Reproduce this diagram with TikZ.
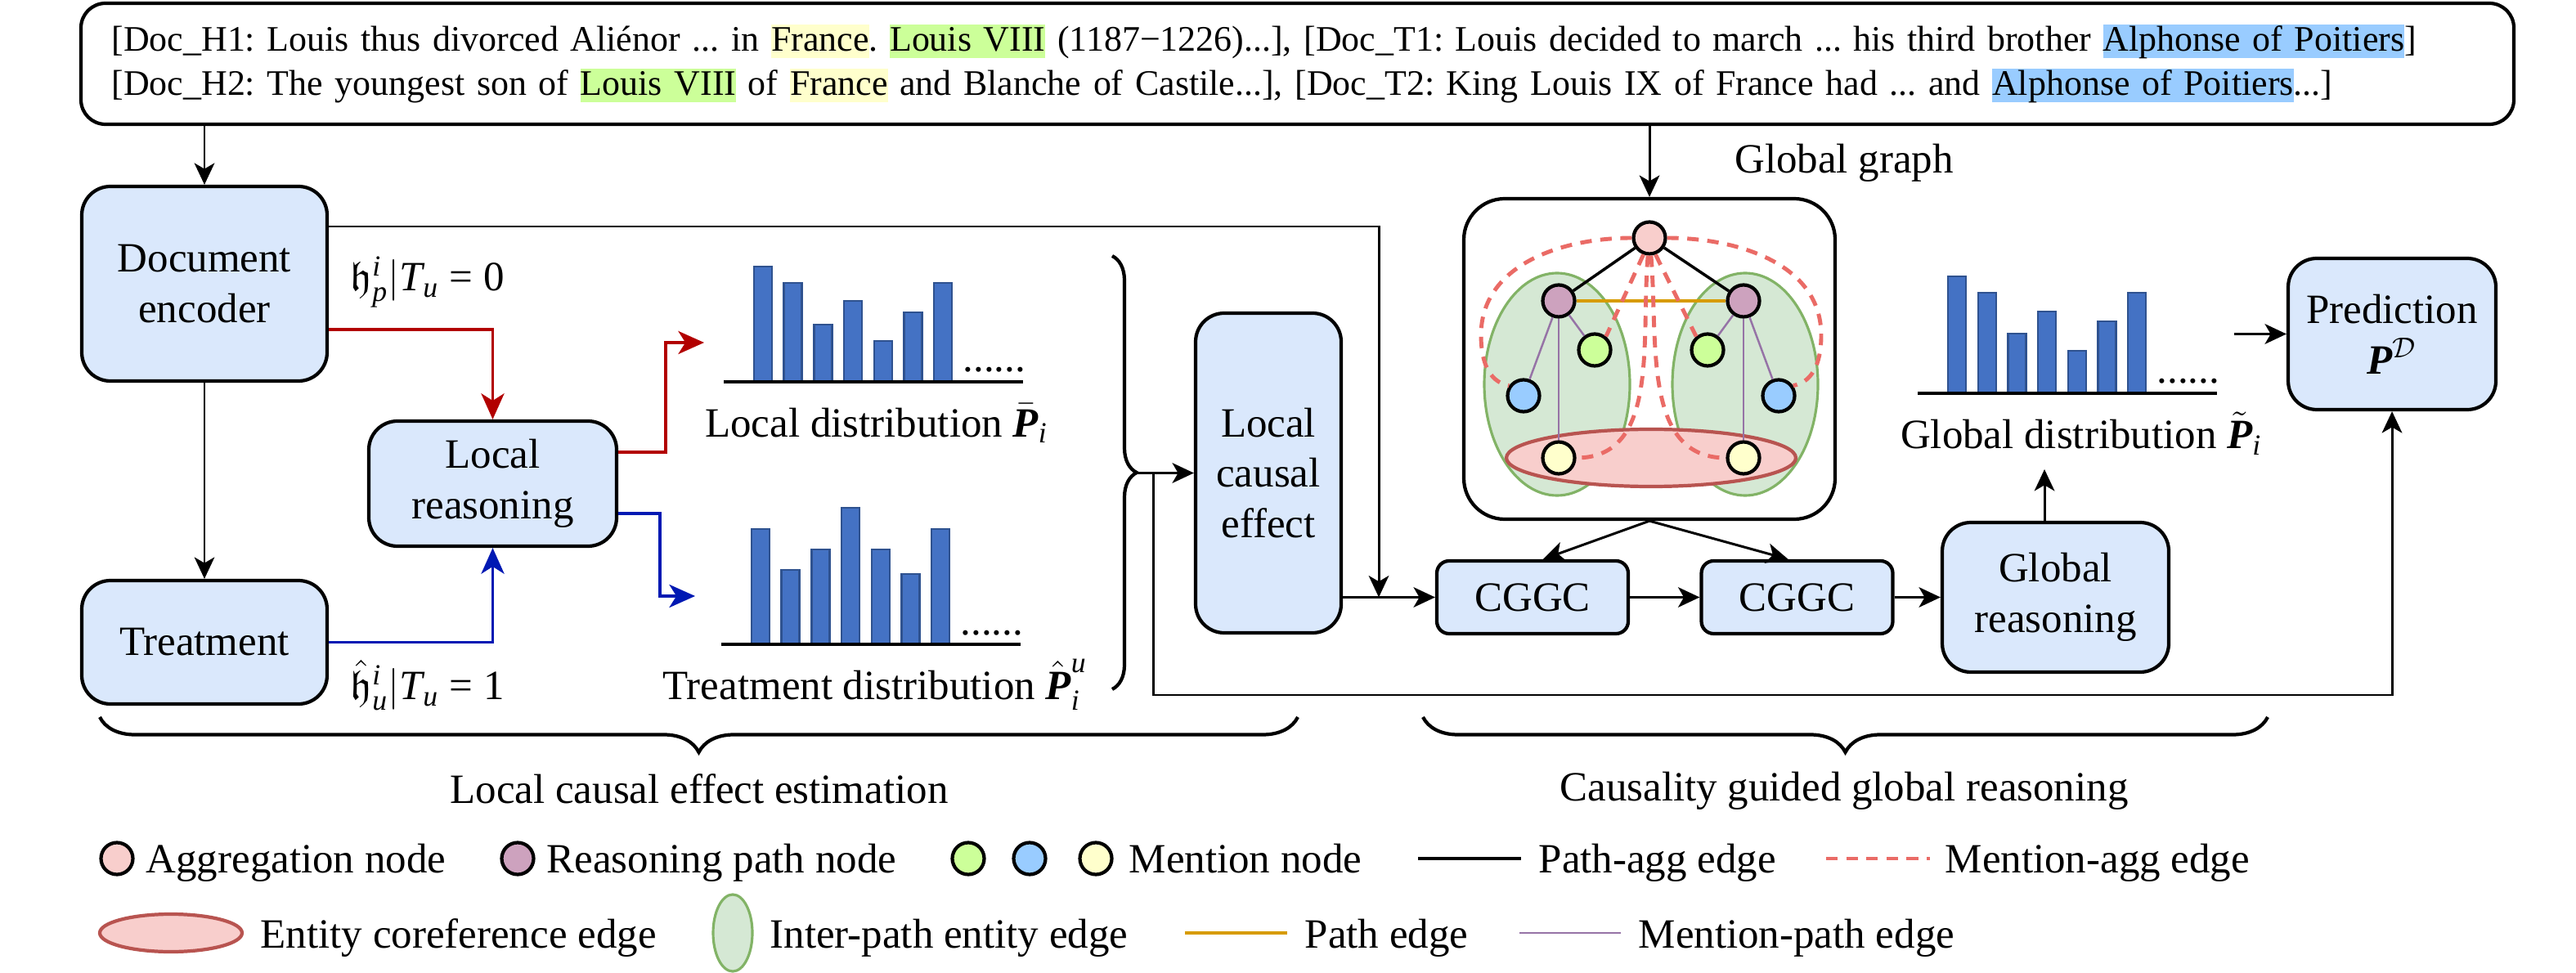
\documentclass[tikz,border=0pt]{standalone}
\usepackage{amsmath,amssymb}
\usepackage[no-math]{fontspec}
\setmainfont{Liberation Serif}
\usetikzlibrary{arrows.meta,decorations.pathreplacing}

\definecolor{boxblue}{HTML}{DAE8FC}
\definecolor{barblue}{HTML}{4472C4}
\definecolor{bardark}{HTML}{2F528F}
\definecolor{redflow}{HTML}{B20000}
\definecolor{blueflow}{HTML}{0019B3}
\definecolor{aggpink}{HTML}{F8CECC}
\definecolor{pathpurple}{HTML}{CDA2BE}
\definecolor{mentgreen}{HTML}{CCFF99}
\definecolor{mentblue}{HTML}{99CCFF}
\definecolor{mentyellow}{HTML}{FFFFCC}
\definecolor{corefred}{HTML}{B85450}
\definecolor{entgreen}{HTML}{D5E8D4}
\definecolor{entgreendark}{HTML}{82B366}
\definecolor{dashred}{HTML}{EA6B66}
\definecolor{pathgold}{HTML}{D79B00}
\definecolor{mpurple}{HTML}{9673A6}

\newcommand{\hlent}[2]{{\setlength{\fboxsep}{0pt}\colorbox{#1}{\rule[-2.6pt]{0pt}{11.6pt}#2}}}
\newcommand{\tv}[1]{\text{\itshape #1}}
\newcommand{\bv}[1]{\text{\bfseries\itshape #1}}
\newcommand{\distbars}[3]{%
  \foreach \h [count=\k] in {#3}
    \draw[bar] ({#1+0.37+(\k-1)*0.367},#2) rectangle ++(0.22,\h);
  \draw[line width=1.2pt] (#1,#2) -- ++(3.66,0);
  \node[anchor=base west, inner sep=0pt] at ({#1+2.92},{#2+0.12}) {......};
}

\tikzset{
  box/.style={draw, line width=1.2pt, fill=boxblue, rounded corners=3.5mm, align=center, inner sep=0pt},
  arr/.style={-{Stealth[length=7.5pt,width=7pt,inset=2pt]}, line width=0.85pt},
  bigarr/.style={-{Stealth[length=9pt,width=8pt,inset=2.5pt]}, line width=1pt},
  bar/.style={fill=barblue, draw=bardark, line width=0.7pt},
  gnode/.style={circle, draw, line width=1.2pt, minimum size=3.9mm, inner sep=0pt},
  brc/.style={decorate, line width=1.2pt},
  aggedge/.style={line width=1pt},
  madash/.style={dashred, line width=1.4pt, dash pattern=on 4pt off 3pt},
  mpedge/.style={mpurple, line width=0.7pt},
  pedge/.style={pathgold, line width=1pt},
  lgtext/.style={anchor=base west, inner sep=0pt}
}

\begin{document}
\frenchspacing
\fontsize{14.5}{17.6}\selectfont
\begin{tikzpicture}
    \useasboundingbox (0,0) rectangle (31.5,-11.9);

    % input documents
    \node[box, fill=white, rounded corners=3mm, minimum width=29.75cm, minimum height=1.48cm,
          text width=29cm, align=left, font=\fontsize{12.5}{15.4}\selectfont] (docs) at (15.865,-0.78)
      {[Doc\_H1: Louis thus divorced Aliénor ... in \hlent{mentyellow}{France}. \hlent{mentgreen}{Louis VIII} (1187−1226)...], [Doc\_T1: Louis decided to march ... his third brother \hlent{mentblue}{Alphonse of Poitiers}]\\\relax
       [Doc\_H2: The youngest son of \hlent{mentgreen}{Louis VIII} of \hlent{mentyellow}{France} and Blanche of Castile...], [Doc\_T2: King Louis IX of France had ... and \hlent{mentblue}{Alphonse of Poitiers}...]};

    % local part
    \node[box, minimum width=3cm, minimum height=2.38cm] (enc) at (2.5,-3.47) {Document\\encoder};
    \node[box, minimum width=3cm, minimum height=1.51cm] (treat) at (2.5,-7.855) {Treatment};
    \node[box, minimum width=3.03cm, minimum height=1.53cm] (lr) at (6.025,-5.915) {Local\\reasoning};
    \node[anchor=west, inner sep=0pt] (hp) at (4.28,-3.45) {$\mathfrak{h}^{\tv{i}}_{\tv{p}}|\tv{T}_{\tv{u}}$ = 0};
    \node[anchor=west, inner sep=0pt] (hu) at (4.28,-8.38) {$\hat{\mathfrak{h}}^{\tv{i}}_{\tv{u}}|\tv{T}_{\tv{u}}$ = 1};

    \distbars{8.85}{-4.67}{1.41,1.21,0.70,0.99,0.50,0.85,1.21}
    \distbars{8.82}{-7.88}{1.41,0.91,1.16,1.67,1.16,0.86,1.41}
    \node (locl) at (10.72,-5.18) {Local distribution $\bar{\bv{P}}_{\tv{i}}$};
    \node (trtl) at (10.70,-8.37) {Treatment distribution $\hat{\bv{P}}_{\tv{i}}^{\tv{u}}$};

    \node[box, minimum width=1.78cm, minimum height=3.91cm] (lce) at (15.51,-5.785) {Local\\causal\\effect};

    % global part
    \node[box, rounded corners=1.5mm, minimum width=2.34cm, minimum height=0.89cm] (cggc1) at (18.74,-7.305) {CGGC};
    \node[box, rounded corners=1.5mm, minimum width=2.34cm, minimum height=0.89cm] (cggc2) at (21.975,-7.305) {CGGC};
    \node[box, minimum width=2.77cm, minimum height=1.83cm] (greason) at (25.135,-7.305) {Global\\reasoning};
    \node[box, minimum width=2.54cm, minimum height=1.85cm] (pred) at (29.25,-4.085) {Prediction\\$\bv{P}^{\mathcal{D}}$};
    \distbars{23.45}{-4.81}{1.43,1.23,0.73,1.00,0.52,0.88,1.23}
    \node (glbl) at (25.45,-5.30) {Global distribution $\tilde{\bv{P}}_{\tv{i}}$};

    % global graph
    \node[draw, line width=1.2pt, rounded corners=5mm, minimum width=4.54cm, minimum height=3.92cm] (graph) at (20.17,-4.39) {};
    \node (ggl) at (22.55,-1.99) {Global graph};
    \draw[entgreendark, fill=entgreen, line width=0.9pt] (19.04,-4.70) ellipse (0.89 and 1.36);
    \draw[entgreendark, fill=entgreen, line width=0.9pt] (21.34,-4.70) ellipse (0.89 and 1.36);
    \draw[corefred, fill=aggpink, line width=1.2pt] (20.19,-5.60) ellipse (1.77 and 0.35);
    \node[gnode, fill=aggpink] (agg) at (20.17,-2.91) {};
    \node[gnode, fill=pathpurple] (pl) at (19.06,-3.68) {};
    \node[gnode, fill=pathpurple] (pr) at (21.32,-3.68) {};
    \node[gnode, fill=mentgreen] (mgl) at (19.50,-4.28) {};
    \node[gnode, fill=mentgreen] (mgr) at (20.88,-4.28) {};
    \node[gnode, fill=mentblue] (mbl) at (18.63,-4.84) {};
    \node[gnode, fill=mentblue] (mbr) at (21.75,-4.84) {};
    \node[gnode, fill=mentyellow] (myl) at (19.06,-5.60) {};
    \node[gnode, fill=mentyellow] (myr) at (21.32,-5.60) {};
    \draw[aggedge] (agg) -- (pl);
    \draw[aggedge] (agg) -- (pr);
    \draw[pedge] (pl) -- (pr);
    \draw[mpedge] (pl) -- (mbl);
    \draw[mpedge] (pl) -- (mgl);
    \draw[mpedge] (pl) -- (myl);
    \draw[mpedge] (pr) -- (mbr);
    \draw[mpedge] (pr) -- (mgr);
    \draw[mpedge] (pr) -- (myr);
    \draw[madash] (agg.west) to[out=180,in=90] (18.11,-4.10) to[out=-90,in=170] (mbl.145);
    \draw[madash] (agg.east) to[out=0,in=90] (22.27,-4.10) to[out=-90,in=10] (mbr.35);
    \draw[madash] (agg.250) -- (mgl.50);
    \draw[madash] (agg.290) -- (mgr.130);
    \draw[madash] (agg.265) to[out=-95,in=0] (myl.east);
    \draw[madash] (agg.275) to[out=-85,in=180] (myr.west);

    % connectors
    \coordinate (locin) at (8.61,-4.19);
    \coordinate (trtin) at (8.50,-7.29);
    \coordinate (join) at (16.86,-7.305);
    \coordinate (bracetip) at (13.89,-5.785);
    \coordinate (split) at (14.10,-5.785);
    \coordinate (loopcorner) at (14.10,-8.50);
    \coordinate (glbup) at (25.00,-5.74);
    \coordinate (predin) at (27.32,-4.085);
    \draw[arr] (enc.north |- docs.south) -- (enc.north);
    \draw[arr] (graph.north |- docs.south) -- (graph.north);
    \draw[arr, line width=0.7pt] (enc) -- (treat);
    \draw[bigarr, redflow] ([yshift=-5.6mm]enc.east) -| (lr.north);
    \draw[bigarr, blueflow] (treat.east) -| (lr.south);
    \draw[bigarr, redflow] ([yshift=3.85mm]lr.east) -- ++(0.58,0) |- (locin);
    \draw[bigarr, blueflow] ([yshift=-3.65mm]lr.east) -- ++(0.51,0) |- (trtin);
    \draw[arr] ([yshift=7mm]enc.east) -| (join);
    \draw[arr] (lce.east |- cggc1.west) -- (cggc1.west);
    \draw[arr] (bracetip) -- (lce.west);
    \draw[arr] (split) -- (loopcorner) -| (pred.south);
    \draw[arr] (graph.south) -- ([xshift=1.3mm]cggc1.north);
    \draw[arr] (graph.south) -- ([xshift=-1.1mm]cggc2.north);
    \draw[arr] (cggc1) -- (cggc2);
    \draw[arr] (cggc2) -- (greason);
    \draw[arr] (greason.north -| glbup) -- (glbup);
    \draw[arr] (predin) -- (pred.west);

    % braces
    \draw[brc, decoration={brace, amplitude=3mm}] (13.60,-3.13) -- (13.60,-8.43);
    \draw[brc, decoration={brace, amplitude=4.3mm}] (15.87,-8.77) -- (1.22,-8.77);
    \draw[brc, decoration={brace, amplitude=4.3mm}] (27.73,-8.77) -- (17.40,-8.77);
    \node (lcelbl) at (8.55,-9.65) {Local causal effect estimation};
    \node (cgglbl) at (22.55,-9.67) {Causality guided global reasoning};

    % legend
    \node[gnode, fill=aggpink] (lgagg) at (1.43,-10.50) {};
    \node[lgtext] at (1.78,-10.67) {Aggregation node};
    \node[gnode, fill=pathpurple] (lgpath) at (6.33,-10.50) {};
    \node[lgtext] at (6.68,-10.67) {Reasoning path node};
    \node[gnode, fill=mentgreen] (lgmg) at (11.84,-10.50) {};
    \node[gnode, fill=mentblue] (lgmb) at (12.59,-10.50) {};
    \node[gnode, fill=mentyellow] (lgmy) at (13.40,-10.50) {};
    \node[lgtext] at (13.80,-10.67) {Mention node};
    \draw[aggedge] (17.34,-10.50) -- (18.60,-10.50);
    \node[lgtext] at (18.81,-10.67) {Path-agg edge};
    \draw[madash] (22.33,-10.50) -- (23.60,-10.50);
    \node[lgtext] at (23.78,-10.67) {Mention-agg edge};
    \draw[corefred, fill=aggpink, line width=1.2pt] (2.09,-11.41) ellipse (0.87 and 0.23);
    \node[lgtext] at (3.18,-11.59) {Entity coreference edge};
    \draw[entgreendark, fill=entgreen, line width=0.9pt] (8.96,-11.41) ellipse (0.24 and 0.47);
    \node[lgtext] at (9.41,-11.59) {Inter-path entity edge};
    \draw[pedge] (14.49,-11.41) -- (15.74,-11.41);
    \node[lgtext] at (15.95,-11.59) {Path edge};
    \draw[mpedge] (18.58,-11.41) -- (19.82,-11.41);
    \node[lgtext] at (20.03,-11.59) {Mention-path edge};
\end{tikzpicture}
\end{document}
